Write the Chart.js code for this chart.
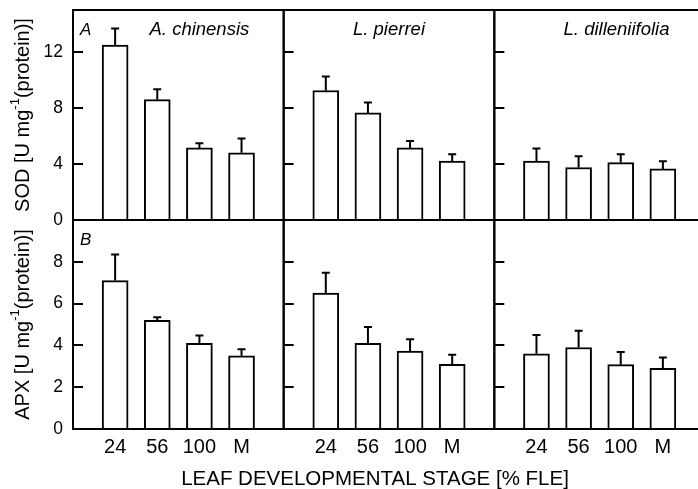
<!DOCTYPE html>
<html>
<head>
<meta charset="utf-8">
<script src="https://cdn.jsdelivr.net/npm/chart.js@4.4.0/dist/chart.umd.min.js"></script>
<style>
html, body { margin: 0; padding: 0; background: #fff; overflow: hidden; }
#wrap { position: relative; width: 698px; height: 489px; overflow: hidden; }
#wrap canvas { position: absolute; left: 0; top: 0; }
</style>
</head>
<body>
<div id="wrap">
  <canvas id="sod" width="720" height="489"></canvas>
  <canvas id="apx" width="720" height="489"></canvas>
</div>
<script>
var stages = ['24', '56', '100', 'M'];
var species = ['A. chinensis', 'L. pierrei', 'L. dilleniifolia'];

var sodChinensis = [12.5, 8.6, 5.15, 4.8];
var sodChinensisErr = [1.18, 0.74, 0.33, 1.03];
var sodPierrei = [9.25, 7.65, 5.15, 4.2];
var sodPierreiErr = [1.0, 0.75, 0.5, 0.5];
var sodDilleniifolia = [4.2, 3.75, 4.1, 3.65];
var sodDilleniifoliaErr = [0.9, 0.8, 0.6, 0.55];

var apxChinensis = [7.1, 5.2, 4.1, 3.5];
var apxChinensisErr = [1.25, 0.15, 0.37, 0.32];
var apxPierrei = [6.5, 4.1, 3.73, 3.1];
var apxPierreiErr = [0.98, 0.78, 0.56, 0.45];
var apxDilleniifolia = [3.6, 3.9, 3.08, 2.9];
var apxDilleniifoliaErr = [0.9, 0.8, 0.6, 0.52];

var sodTicks = [0, 4, 8, 12];
var apxTicks = [0, 2, 4, 6, 8];

var FONT = "'Liberation Sans', Arial, sans-serif";

// bars sit at 1..4 inside each panel, panels are 5 units wide
function points(values, group) {
    return values.map(function(v, i) {
        return { x: group * 5 + i + 1, y: v };
    });
}

function makeDatasets(series, errs) {
    return series.map(function(s, g) {
        return {
            data: points(s, g),
            errors: errs[g],
            backgroundColor: '#ffffff',
            borderColor: '#000000',
            borderWidth: 2,
            barThickness: 26,
            grouped: false
        };
    });
}

function noPad(scale) {
    scale.paddingTop = 0;
    scale.paddingBottom = 0;
    scale.paddingLeft = 0;
    scale.paddingRight = 0;
}

var panelPlugin = {
    id: 'panels',
    afterDatasetsDraw: function(chart, args, opts) {
        var ctx = chart.ctx;
        var x = chart.scales.x, y = chart.scales.y;
        var top = chart.chartArea.top, bottom = chart.chartArea.bottom;
        ctx.save();
        ctx.strokeStyle = '#000';
        ctx.lineWidth = 2;

        // error bars (upper only)
        chart.data.datasets.forEach(function(ds, di) {
            var meta = chart.getDatasetMeta(di);
            meta.data.forEach(function(bar, i) {
                var y0 = y.getPixelForValue(ds.data[i].y);
                var y1 = y.getPixelForValue(ds.data[i].y + ds.errors[i]);
                ctx.beginPath();
                ctx.moveTo(bar.x, y0);
                ctx.lineTo(bar.x, y1);
                ctx.moveTo(bar.x - 4, y1);
                ctx.lineTo(bar.x + 4, y1);
                ctx.stroke();
            });
        });

        // panel frames and inward ticks
        for (var g = 0; g < 3; g++) {
            var l = x.getPixelForValue(g * 5);
            var r = x.getPixelForValue(g * 5 + 5);
            ctx.strokeRect(l, top, r - l, bottom - top);
            opts.ticks.forEach(function(t) {
                if (t === 0) return;
                var ty = Math.round(y.getPixelForValue(t));
                ctx.beginPath();
                ctx.moveTo(l, ty);
                ctx.lineTo(l + 10, ty);
                ctx.stroke();
            });
        }

        // panel letter and species names
        ctx.fillStyle = '#000';
        ctx.textBaseline = 'alphabetic';
        ctx.font = 'italic 17px ' + FONT;
        ctx.textAlign = 'left';
        ctx.fillText(opts.letter, x.getPixelForValue(0) + 7, top + 25);
        if (opts.showSpecies) {
            ctx.font = 'italic 18.5px ' + FONT;
            ctx.textAlign = 'center';
            var at = [3.0, 7.5, 12.9];
            species.forEach(function(name, i) {
                ctx.fillText(name, x.getPixelForValue(at[i]), top + 25);
            });
        }

        // x title
        if (opts.xTitle) {
            ctx.font = '20.5px ' + FONT;
            ctx.textAlign = 'center';
            ctx.textBaseline = 'alphabetic';
            ctx.fillText(opts.xTitle, 375, 485);
        }

        // y title with superscript
        var parts = [[opts.yTitle + ' [U mg', 20, 0], ['-1', 13, -8], ['(protein)]', 20, 0]];
        var total = 0;
        parts.forEach(function(p) {
            ctx.font = p[1] + 'px ' + FONT;
            p.push(ctx.measureText(p[0]).width);
            total += p[3];
        });
        ctx.translate(23, (top + bottom) / 2);
        ctx.rotate(-Math.PI / 2);
        ctx.textAlign = 'left';
        ctx.textBaseline = 'middle';
        var cx = -total / 2;
        parts.forEach(function(p) {
            ctx.font = p[1] + 'px ' + FONT;
            ctx.fillText(p[0], cx, p[2]);
            cx += p[3];
        });
        ctx.restore();
    }
};

function yScale(max, ticks) {
    return {
        type: 'linear',
        min: 0,
        max: max,
        grid: { display: false, drawTicks: false },
        border: { display: false },
        afterBuildTicks: function(scale) {
            scale.ticks = ticks.map(function(v) { return { value: v }; });
        },
        afterFit: function(scale) {
            scale.width = 73;
            noPad(scale);
        },
        ticks: {
            padding: 10,
            color: '#000',
            font: { family: FONT, size: 17.5 }
        }
    };
}

Chart.defaults.animation = false;

var sodChart = new Chart(document.getElementById('sod'), {
    type: 'bar',
    data: {
        datasets: makeDatasets(
            [sodChinensis, sodPierrei, sodDilleniifolia],
            [sodChinensisErr, sodPierreiErr, sodDilleniifoliaErr])
    },
    options: {
        responsive: false,
        layout: { padding: { left: 0, top: 10, right: 15, bottom: 269 } },
        plugins: {
            legend: { display: false },
            tooltip: { enabled: false },
            panels: { ticks: sodTicks, letter: 'A', showSpecies: true, yTitle: 'SOD' }
        },
        scales: {
            x: { type: 'linear', min: 0, max: 15, offset: false, display: false, afterFit: noPad },
            y: yScale(15, sodTicks)
        }
    },
    plugins: [panelPlugin]
});

var apxChart = new Chart(document.getElementById('apx'), {
    type: 'bar',
    data: {
        datasets: makeDatasets(
            [apxChinensis, apxPierrei, apxDilleniifolia],
            [apxChinensisErr, apxPierreiErr, apxDilleniifoliaErr])
    },
    options: {
        responsive: false,
        layout: { padding: { left: 0, top: 220, right: 15, bottom: 0 } },
        plugins: {
            legend: { display: false },
            tooltip: { enabled: false },
            panels: {
                ticks: apxTicks, letter: 'B', showSpecies: false, yTitle: 'APX',
                xTitle: 'LEAF DEVELOPMENTAL STAGE [% FLE]'
            }
        },
        scales: {
            x: {
                type: 'linear',
                min: 0,
                max: 15,
                offset: false,
                grid: { display: false, drawTicks: false, offset: false },
                border: { display: false },
                afterBuildTicks: function(scale) {
                    var t = [];
                    for (var g = 0; g < 3; g++) {
                        stages.forEach(function(s, i) { t.push({ value: g * 5 + i + 1 }); });
                    }
                    scale.ticks = t;
                },
                afterFit: function(scale) {
                    scale.height = 60;
                    noPad(scale);
                },
                ticks: {
                    padding: 6,
                    color: '#000',
                    maxRotation: 0,
                    autoSkip: false,
                    font: { family: FONT, size: 20 },
                    callback: function(value, index) { return stages[index % stages.length]; }
                }
            },
            y: yScale(10, apxTicks)
        }
    },
    plugins: [panelPlugin]
});
</script>
</body>
</html>
